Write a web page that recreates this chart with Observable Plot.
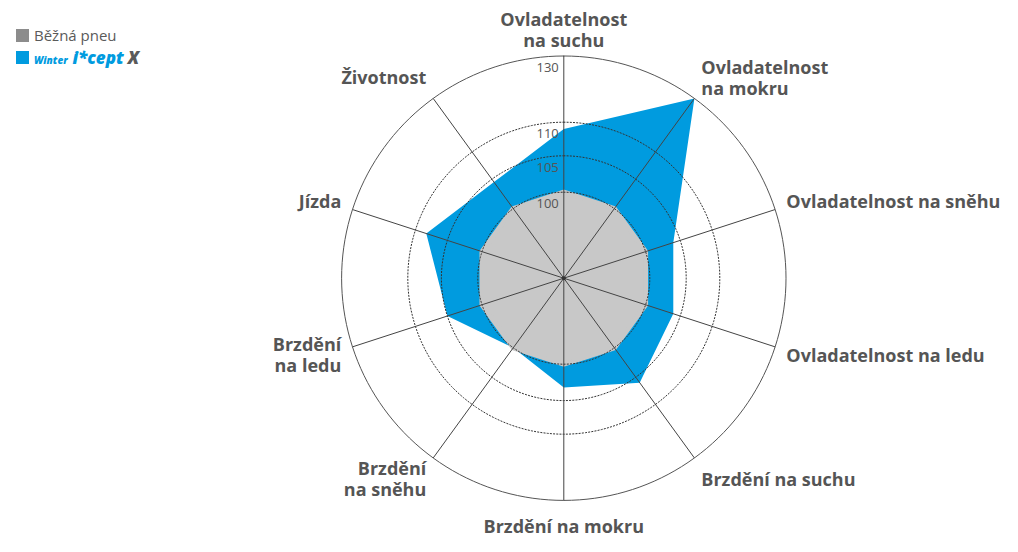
<!DOCTYPE html>
<html><head><meta charset="utf-8">
<script src="https://cdn.jsdelivr.net/npm/d3@7"></script>
<script src="https://cdn.jsdelivr.net/npm/@observablehq/plot@0.6"></script>
<style>
body{margin:0;background:#fff;font-family:"Open Sans",sans-serif;}
#wrap{position:relative;width:1018px;height:552px;overflow:hidden;}
#legend{position:absolute;left:16px;top:24px;color:#5a5a5a;}
.row{display:flex;align-items:center;height:22px;}
.sw{width:13px;height:13px;margin-right:5px;flex:none;}
.lbl{font-size:15px;line-height:15px;}
.logo{font-style:italic;font-weight:800;color:#009bdf;white-space:nowrap;}
.logo .w{font-size:10px;margin-right:5px;}
.logo .i{font-size:17px;}
.logo .x{font-size:17px;color:#5a5a5a;margin-left:4px;}
</style></head>
<body><div id="wrap"><div id="chart"></div><div id="legend"></div></div>
<script>
// ---- data ----
const categories = [
  "Ovladatelnost\nna suchu",
  "Ovladatelnost\nna mokru",
  "Ovladatelnost na sněhu",
  "Ovladatelnost na ledu",
  "Brzdění na suchu",
  "Brzdění na mokru",
  "Brzdění\nna sněhu",
  "Brzdění\nna ledu",
  "Jízda",
  "Životnost"
];
const standardValues = [100, 100, 100, 100, 100, 100, 100, 100, 100, 100];
const iceptValues = [109, 130, 104, 104, 106, 103.2, 100, 105, 108.3, 104.5];
const ringTicks = [100, 105, 110, 130];
const seriesNames = ["Běžná pneu", "Winter i*cept X"];
const seriesColors = ["#8c8c8c", "#009bdf"];

// ---- layout ----
const W = 1018, H = 552, cx = 563.3, cy = 277.7;
const radius = d3.scaleLinear().domain([88, 100, 105, 110, 130]).range([0, 86, 122.4, 156, 222.2]);
const step = 360 / categories.length;
const rad = a => a * Math.PI / 180;
const px = (v, a) => radius(v) * Math.sin(rad(a));
const py = (v, a) => -radius(v) * Math.cos(rad(a));

const polyData = vals => vals.map((v, i) => ({v, a: i * step}));
const std = polyData(standardValues);
const ice = polyData(iceptValues);

const ringPts = ringTicks.flatMap(t => d3.range(0, 361, 2).map(a => ({t, a})));
const spokes = categories.map((c, i) => ({c, a: i * step}));

const labels = categories.map((c, i) => {
  const a = i * step;
  const s = Math.sin(rad(a)), co = Math.cos(rad(a));
  const anchor = Math.abs(s) < 0.01 ? "middle" : (s > 0 ? "start" : "end");
  return {c, a, x: 234 * s, y: -248 * co, anchor};
});
const labelMark = anchor => Plot.text(labels.filter(d => d.anchor === anchor), {
  x: "x", y: "y", text: "c", textAnchor: anchor, lineAnchor: "middle",
  lineHeight: 1.17, fontSize: 18, fontWeight: 700, fill: "#555"
});

const chart = Plot.plot({
  width: W, height: H, margin: 0,
  x: {domain: [-cx, W - cx], range: [0, W], axis: null},
  y: {domain: [-cy, H - cy], range: [0, H], axis: null},
  style: {fontFamily: "'Open Sans', sans-serif", background: "transparent"},
  marks: [
    Plot.line(ice, {x: d => px(d.v, d.a), y: d => py(d.v, d.a), curve: "linear-closed", fill: seriesColors[1], stroke: "none"}),
    Plot.line(std, {x: d => px(d.v, d.a), y: d => py(d.v, d.a), curve: "linear-closed", fill: "#c8c8c8", stroke: "#c8c8c8", strokeWidth: 5, strokeLinejoin: "round"}),
    Plot.line(ringPts.filter(d => d.t !== 130), {x: d => px(d.t, d.a), y: d => py(d.t, d.a), z: "t", stroke: "#333", strokeWidth: 1, strokeDasharray: "1.2,2"}),
    Plot.line(ringPts.filter(d => d.t === 130), {x: d => px(d.t, d.a), y: d => py(d.t, d.a), z: "t", stroke: "#555", strokeWidth: 1}),
    Plot.link(spokes, {x1: 0, y1: 0, x2: d => px(130, d.a), y2: d => py(130, d.a), stroke: "#444", strokeWidth: 1}),
    Plot.dot([0], {x: 0, y: 0, r: 2, fill: "#333"}),
    Plot.text(ringTicks, {x: 0, y: d => py(d, 0) + 12, text: d => String(d), textAnchor: "end", dx: -5, fontSize: 13, fill: "#555"}),
    labelMark("middle"), labelMark("start"), labelMark("end")
  ]
});
document.getElementById("chart").append(chart);

// legend
const lg = document.getElementById("legend");
lg.innerHTML =
  `<div class="row"><div class="sw" style="background:${seriesColors[0]}"></div><span class="lbl">${seriesNames[0]}</span></div>` +
  `<div class="row"><div class="sw" style="background:${seriesColors[1]}"></div><span class="logo"><span class="w">Winter</span><span class="i">i*cept</span><span class="x">X</span></span></div>`;
</script>
</body></html>
